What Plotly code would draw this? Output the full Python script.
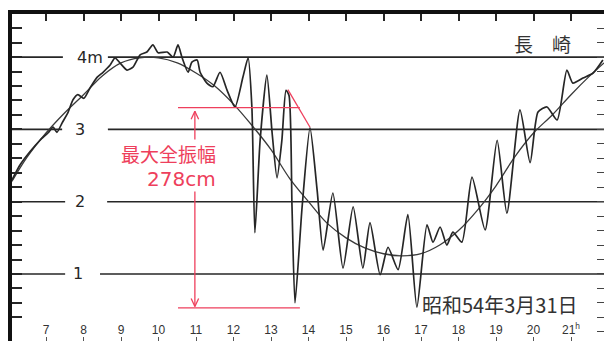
import plotly.graph_objects as go

# ---------------- data ----------------
HOURS = list(range(7, 22))
HOUR_LABELS = [str(h) for h in range(7, 21)] + ["21<sup>h</sup>"]

LEVELS = [1, 2, 3, 4]
LEVEL_LABELS = ["1", "2", "3", "4m"]

# observed sea level (m) vs hour
OBS_T = [6.09, 6.31, 6.57, 6.84, 7.05, 7.19, 7.29, 7.43, 7.59, 7.72, 7.85, 8.01, 8.17, 8.36,
         8.52, 8.71, 8.84, 8.97, 9.16, 9.32, 9.51, 9.69, 9.85, 9.99, 10.23, 10.39, 10.52,
         10.63, 10.79, 10.89, 11.03, 11.11, 11.29, 11.45, 11.64, 11.83, 12.04, 12.25, 12.39,
         12.49, 12.57, 12.71, 12.89, 13.03, 13.16, 13.29, 13.40, 13.48, 13.56, 13.64, 13.83,
         14.04, 14.23, 14.39, 14.65, 14.92, 15.19, 15.45, 15.64, 15.91, 16.12, 16.39, 16.65,
         16.89, 17.16, 17.32, 17.51, 17.69, 17.85, 18.09, 18.36, 18.71, 19.03, 19.29, 19.64,
         19.91, 20.12, 20.36, 20.63, 20.89, 21.05, 21.32, 21.59, 21.85]
OBS_V = [2.30, 2.51, 2.69, 2.85, 2.95, 3.03, 2.96, 3.09, 3.24, 3.41, 3.48, 3.43, 3.57, 3.72,
         3.79, 3.89, 3.99, 3.92, 3.82, 3.86, 4.03, 4.07, 4.17, 4.06, 4.07, 4.00, 4.17,
         3.99, 3.79, 3.93, 3.96, 3.79, 3.64, 3.59, 3.79, 3.54, 3.31, 3.72, 3.99,
         3.31, 1.57, 2.85, 3.75, 2.95, 2.33, 2.85, 3.54, 3.47, 1.93, 0.60, 1.93,
         3.02, 2.16, 1.33, 2.12, 1.08, 1.93, 1.08, 1.71, 0.99, 1.37, 1.06, 1.82,
         0.54, 1.68, 1.44, 1.65, 1.40, 1.58, 1.44, 2.34, 1.61, 2.85, 1.84, 3.27,
         2.54, 3.24, 3.31, 3.13, 3.82, 3.64, 3.71, 3.78, 3.96]

# astronomical (predicted) tide
AST_T = [6.09, 6.5, 7.0, 7.5, 8.0, 8.5, 9.0, 9.5, 10.0, 10.5, 11.0, 11.5, 12.0, 12.5, 13.0,
         13.5, 14.0, 14.5, 15.0, 15.5, 16.0, 16.5, 17.0, 17.5, 18.0, 18.5, 19.0, 19.5, 20.0,
         20.5, 21.0, 21.5, 21.88]
AST_V = [2.28, 2.62, 2.95, 3.23, 3.48, 3.74, 3.92, 3.99, 3.99, 3.92, 3.78, 3.60, 3.35, 3.05,
         2.72, 2.32, 2.00, 1.70, 1.50, 1.36, 1.28, 1.25, 1.28, 1.40, 1.60, 1.88, 2.22, 2.62,
         2.95, 3.20, 3.48, 3.74, 3.92]

MAX_HIGH = 3.30
MAX_LOW = 0.53
PEAK_T, PEAK_V = 13.45, 3.55

STATION = "長　崎"
DATE_TEXT = "昭和54年3月31日"
NOTE_1 = "最大全振幅"
NOTE_2 = "278cm"

# ---------------- styling ----------------
X_RANGE = [6.093, 21.88]
Y_RANGE = [0.073, 4.596]
INK = "#262626"
RED = "#ee3f5c"
CJK = "Noto Sans CJK JP"
LAT = "Liberation Sans, Arial, sans-serif"
WIDE = "DejaVu Sans, sans-serif"

GAP = {4: (7.45, 8.65), 3: (7.43, 8.65), 2: (7.51, 8.63), 1: (7.51, 8.44)}
LABEL_X = {4: 8.17, 3: 7.91, 2: 7.91, 1: 7.85}

fig = go.Figure()

fig.add_trace(go.Scatter(x=AST_T, y=AST_V, mode="lines",
                         line=dict(color="#3a3a3a", width=1.3, shape="spline", smoothing=1.0),
                         showlegend=False, hoverinfo="skip"))
fig.add_trace(go.Scatter(x=OBS_T, y=OBS_V, mode="lines",
                         line=dict(color=INK, width=1.7, shape="spline", smoothing=0.6),
                         showlegend=False, hoverinfo="skip"))
fig.add_trace(go.Scatter(x=[None], y=[None], xaxis="x2", yaxis="y2",
                         showlegend=False, hoverinfo="skip"))

shapes = []
for lv in LEVELS:
    g0, g1 = GAP[lv]
    for a, b in ((X_RANGE[0], g0), (g1, X_RANGE[1])):
        shapes.append(dict(type="line", xref="x", yref="y", x0=a, x1=b, y0=lv, y1=lv,
                           line=dict(color=INK, width=1.6), layer="below"))

ax = 10.97
red = dict(color=RED, width=1.3)
shapes += [
    dict(type="line", x0=10.52, x1=13.77, y0=MAX_HIGH, y1=MAX_HIGH, line=red),
    dict(type="line", x0=PEAK_T, x1=14.04, y0=PEAK_V, y1=3.03, line=red),
    dict(type="line", x0=10.52, x1=13.77, y0=MAX_LOW, y1=MAX_LOW, line=red),
    dict(type="line", x0=ax, x1=ax, y0=3.25, y1=2.86, line=red),
    dict(type="line", x0=ax, x1=ax, y0=2.14, y1=0.55, line=red),
    dict(type="line", x0=ax - 0.1, x1=ax, y0=3.14, y1=3.25, line=red),
    dict(type="line", x0=ax + 0.1, x1=ax, y0=3.14, y1=3.25, line=red),
    dict(type="line", x0=ax - 0.1, x1=ax, y0=0.66, y1=0.55, line=red),
    dict(type="line", x0=ax + 0.1, x1=ax, y0=0.66, y1=0.55, line=red),
]

annotations = []
for lv, lab in zip(LEVELS, LEVEL_LABELS):
    annotations.append(dict(x=LABEL_X[lv], y=lv, text=lab, showarrow=False,
                            font=dict(family=WIDE, size=16, color=INK)))
annotations += [
    dict(x=20.23, y=4.19, text=STATION, showarrow=False,
         font=dict(family=CJK, size=19, color="#333")),
    dict(x=16.97, y=0.58, text=DATE_TEXT, showarrow=False, xanchor="left",
         font=dict(family=CJK, size=20, color="#333")),
    dict(x=11.58, y=2.66, text=NOTE_1, showarrow=False, xanchor="right",
         font=dict(family=CJK, size=19, color=RED)),
    dict(x=11.58, y=2.31, text=NOTE_2, showarrow=False, xanchor="right",
         font=dict(family=WIDE, size=20, color=RED)),
]

fig.update_layout(
    width=604, height=341,
    margin=dict(l=12, r=0, t=14, b=0),
    paper_bgcolor="white", plot_bgcolor="white",
    shapes=shapes, annotations=annotations,
    xaxis=dict(range=X_RANGE, tickvals=HOURS, ticktext=HOUR_LABELS,
               ticks="inside", ticklen=4, tickcolor="#555", tickwidth=1,
               ticklabelposition="inside", tickfont=dict(family=LAT, size=12, color="#333"),
               showgrid=False, zeroline=False, showline=False),
    xaxis2=dict(range=X_RANGE, overlaying="x", side="top", tickvals=HOURS,
                ticks="inside", ticklen=7, tickwidth=1.5, tickcolor=INK,
                showticklabels=False, showline=True, linewidth=4, linecolor="#111",
                showgrid=False, zeroline=False),
    yaxis=dict(range=Y_RANGE, tick0=0, dtick=0.2, ticks="inside", ticklen=10,
               tickwidth=1.5, tickcolor=INK, showticklabels=False,
               showline=True, linewidth=4, linecolor="#111",
               showgrid=False, zeroline=False),
    yaxis2=dict(range=Y_RANGE, overlaying="y", side="right", tick0=0, dtick=0.2,
                ticks="inside", ticklen=7, tickwidth=1.2, tickcolor="#444",
                showticklabels=False, showline=False, showgrid=False, zeroline=False),
)

fig.write_html("out.html", config={"displayModeBar": False},
               post_script="document.body.style.margin='0';")
